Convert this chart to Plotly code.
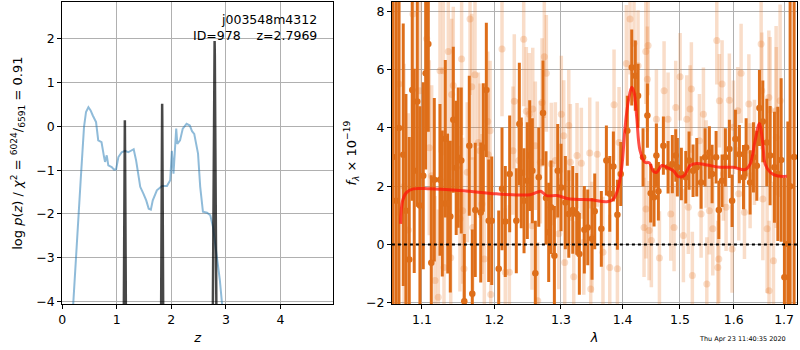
import plotly.graph_objects as go

# ---------------- left panel: log p(z) ----------------
pz_z = [0.18, 0.20, 0.264, 0.338, 0.399, 0.436, 0.48, 0.52, 0.56, 0.62, 0.66, 0.72, 0.767, 0.785,
        0.816, 0.845, 0.907, 0.95, 0.987, 1.03, 1.09, 1.15, 1.21, 1.26, 1.31, 1.355, 1.43, 1.49,
        1.54, 1.586, 1.625, 1.66, 1.735, 1.83, 1.92, 1.98, 2.01, 2.04, 2.07, 2.09, 2.11, 2.16,
        2.21, 2.28, 2.34, 2.38, 2.42, 2.49, 2.53, 2.58, 2.655, 2.715, 2.765, 2.825, 2.89, 2.93, 2.95]
pz_logp = [-4.5, -4.05, -2.83, -1.23, -0.015, 0.33, 0.44, 0.365, 0.25, 0.10, -0.32, -0.36, -0.70, -0.81,
           -0.66, -0.89, -0.93, -0.99, -0.98, -0.70, -0.59, -0.56, -0.59, -0.55, -0.52, -0.78, -1.38, -1.54,
           -1.69, -1.88, -1.90, -1.69, -1.46, -1.36, -1.36, -1.23, -0.56, -1.08, -0.40, -0.05, -0.40, -0.32,
           -0.05, 0.06, 0.02, -0.11, -0.17, -0.62, -1.38, -1.95, -1.97, -2.03, -2.30, -2.83, -3.51, -4.05, -4.5]

spike_z = [1.128, 1.140, 1.146, 1.148, 1.150, 1.156, 1.168, None,
           1.812, 1.824, 1.830, 1.832, 1.834, 1.840, 1.852, None,
           2.760, 2.780, 2.790, 2.794, 2.798, 2.808, 2.828]
spike_logp = [-4.5, -1.5, -0.2, 0.14, -0.2, -1.5, -4.5, None,
              -4.5, -1.2, 0.2, 0.52, 0.2, -1.2, -4.5, None,
              -4.5, -0.5, 1.6, 1.95, 1.6, -0.5, -4.5]

z_ticks = [0, 1, 2, 3, 4]
logp_ticks = [-4, -3, -2, -1, 0, 1, 2]

# ---------------- right panel: spectrum ----------------
# darker beam
wave_a = [1.0623, 1.0663, 1.0700, 1.0755, 1.0790, 1.0833, 1.0872, 1.0898, 1.0938, 1.0973, 1.1017,
          1.1049, 1.1084, 1.1124, 1.1164, 1.1241, 1.1272, 1.1313, 1.1346, 1.1381, 1.1422, 1.1462,
          1.1490, 1.1532, 1.1574, 1.1644, 1.1686, 1.1728, 1.1805, 1.1842, 1.1885, 1.1919, 1.1962,
          1.2063, 1.2111, 1.2159, 1.2223, 1.2321, 1.2366, 1.2395, 1.2436, 1.2485, 1.2521, 1.2561,
          1.2606, 1.2658, 1.2723, 1.2769, 1.2810, 1.2846, 1.2898, 1.2950, 1.3002, 1.3069, 1.3123,
          1.3186, 1.3249, 1.3291, 1.3371, 1.3426, 1.3495, 1.3539, 1.3647, 1.3730, 1.3786, 1.3846,
          1.3913, 1.3969, 1.4080, 1.4155, 1.4216, 1.4263, 1.4349, 1.4424, 1.4482, 1.4540, 1.4581,
          1.4616, 1.4704, 1.4787, 1.4863, 1.4924, 1.4953, 1.5025, 1.5105, 1.5165, 1.5238, 1.5306,
          1.5386, 1.5460, 1.5540, 1.5591, 1.5666, 1.5717, 1.5779, 1.5842, 1.5918, 1.5970, 1.6034,
          1.6111, 1.6190, 1.6242, 1.6320, 1.6385, 1.6452, 1.6504, 1.6571, 1.6651, 1.6717, 1.6804,
          1.6873, 1.6940, 1.7007, 1.7077, 1.7124, 1.7206]
flux_a = [3.0, 1.5, 4.0, 3.08, 1.16, -0.51, 5.3, 2.53, 4.9, 1.34, 2.36,
          5.87, 6.87, -0.62, 2.22, 2.22, 1.41, 3.63, 1.41, 0.96, 4.28, 2.63,
          2.98, 2.88, -1.94, 3.39, -1.68, 1.19, 1.10, 3.33, 5.3, 0.82, 0.82,
          -0.83, 1.91, 0.79, 2.42, 0.82, 4.13, 2.46, 1.5, 2.19, 3.05, 2.53,
          -0.98, 2.31, 4.51, 1.6, 0.42, 1.28, -0.38, 2.53, 1.96, 1.44, 1.05,
          1.19, 1.05, -0.32, 0.51, 0.59, 0.2, 1.14, 0.54, 2.88, 1.74, 2.68,
          1.02, 2.42, 3.9, 6.07, 5.79, 5.1, 2.99, 4.42, 1.76, 1.62, 3.05,
          1.83, 3.39, 2.65, 2.76, 3.05, 2.65, 2.42, 2.31, 2.88, 2.53, 2.65,
          2.13, 2.99, 3.16, 2.42, 2.99, 1.19, 2.19, 2.99, 3.28, 1.5, 3.62,
          3.1, 2.31, 3.33, 2.13, 2.99, 2.7, 4.68, 4.22, 3.5, 3.05, 2.65,
          2.42, 2.9, -1.12, 0.02, 2.0, 3.0]
err_a = [8.0, 7.5, 6.5, 4.5, 4.0, 4.2, 3.8, 3.5, 3.6, 3.4, 3.2,
         3.3, 3.0, 3.0, 2.8, 2.6, 2.5, 2.7, 2.4, 2.6, 2.5, 2.3,
         2.4, 2.5, 2.3, 2.4, 2.2, 2.3, 2.4, 2.2, 2.3, 2.1, 2.2,
         2.0, 2.1, 1.9, 2.0, 1.8, 2.1, 1.9, 1.8, 2.0, 1.9, 1.8,
         1.8, 1.7, 1.8, 1.6, 1.7, 1.6, 1.7, 1.6, 1.5, 1.6, 1.5,
         1.5, 1.4, 1.4, 1.5, 1.3, 1.4, 1.3, 1.3, 1.2, 1.3, 1.2,
         1.2, 1.1, 1.2, 1.3, 1.2, 1.1, 1.0, 1.1, 1.0, 1.0, 1.1,
         1.0, 1.0, 0.9, 1.0, 0.9, 1.0, 0.9, 0.9, 1.0, 0.9, 1.0,
         0.9, 1.0, 0.9, 1.0, 0.9, 1.0, 0.9, 1.0, 1.0, 0.9, 1.0,
         1.0, 1.1, 1.0, 1.1, 1.2, 1.2, 1.3, 1.4, 1.5, 1.7, 1.9,
         2.3, 2.8, 3.4, 4.2, 8.0, 9.0]

# lighter beam
wave_b = [1.0700, 1.0765, 1.0820, 1.0881, 1.0973, 1.1063, 1.1097, 1.1129, 1.1174, 1.1218, 1.1241,
          1.1286, 1.1295, 1.1354, 1.1387, 1.1400, 1.1422, 1.1514, 1.1537, 1.1552, 1.1570, 1.1616,
          1.1654, 1.1678, 1.1692, 1.1724, 1.1771, 1.1795, 1.1823, 1.1856, 1.1905, 1.1913, 1.1938,
          1.1948, 1.2111, 1.2159, 1.2218, 1.2272, 1.2291, 1.2357, 1.2431, 1.2470, 1.2515, 1.2556,
          1.2567, 1.2606, 1.2643, 1.2682, 1.2708, 1.2743, 1.2774, 1.2851, 1.2913, 1.2966, 1.3006,
          1.3044, 1.3059, 1.3123, 1.3148, 1.3202, 1.3254, 1.3323, 1.3362, 1.3458, 1.3474, 1.3495,
          1.3581, 1.3674, 1.3786, 1.3857, 1.3913, 1.3941, 1.4064, 1.4126, 1.4194, 1.4263, 1.4366,
          1.4396, 1.4400, 1.4424, 1.4436, 1.4453, 1.4493, 1.4581, 1.4634, 1.4716, 1.4787, 1.4835,
          1.4894, 1.4924, 1.5002, 1.5062, 1.5123, 1.5152, 1.5183, 1.5207, 1.5225, 1.5355, 1.5386,
          1.5429, 1.5479, 1.5492, 1.5540, 1.5604, 1.5679, 1.5698, 1.5717, 1.5728, 1.5779, 1.5804,
          1.5855, 1.5918, 1.5970, 1.5995, 1.6080, 1.6099, 1.6144, 1.6209, 1.6295, 1.6320, 1.6405,
          1.6537, 1.6551, 1.6571, 1.6657, 1.6691, 1.6695, 1.6717, 1.6784, 1.6838, 1.6842, 1.6919]
flux_b = [5.5, 2.0, 0.5, 7.9, 5.27, 7.05, 3.32, 2.36, -1.23, -1.8, 5.96,
          5.96, -0.78, 6.62, -0.45, 5.14, 5.45, 0.89, 6.36, 1.16, -0.83, 2.48,
          7.73, 5.41, 0.59, 5.82, 3.5, 3.22, 1.39, -0.49, 4.22, 3.08, 3.9,
          -1.71, 6.7, -0.95, -0.95, 3.22, 4.91, 2.88, 7.04, 4.57, 4.47, 0.65,
          4.65, 3.39, -1.92, 2.82, 4.87, 6.44, 5.87, 2.76, 2.88, 0.37, 4.47,
          3.73, -0.61, 4.08, 2.82, -1.1, 3.05, 2.79, 0.08, 3.14, -1.52, 0.25,
          3.1, -0.26, -0.78, 4.79, -0.83, 3.5, 6.21, 7.73, 6.9, 6.13, 0.59,
          6.62, 1.22, 5.67, 6.82, 0.48, 0.14, 4.3, -0.46, 5.27, 4.3, 1.05,
          0.59, 4.7, 5.75, 0.31, 4.3, 1.28, 4.65, 5.33, -1.06, 3.56, 1.05,
          4.47, 2.76, -1.35, 1.16, 0.54, 6.99, -0.78, -0.49, 4.93, 5.5, 2.42,
          1.28, 4.95, -0.15, 4.02, 4.59, 1.74, 5.87, 1.11, 4.82, 2.36, 3.16,
          6.87, 5.27, 1.56, 0.54, 5.04, -1.58, 4.61, -0.55, 4.59, 3.67, 4.93]
err_b = [4.5, 4.2, 4.0, 3.6, 3.4, 3.2, 3.0, 3.1, 2.9, 3.0, 2.8,
         2.9, 2.7, 2.8, 2.7, 2.6, 2.7, 2.5, 2.6, 2.5, 2.6, 2.4,
         2.6, 2.5, 2.4, 2.5, 2.4, 2.3, 2.4, 2.3, 2.4, 2.3, 2.4,
         2.3, 2.3, 2.2, 2.3, 2.2, 2.3, 2.1, 2.3, 2.2, 2.1, 2.2,
         2.1, 2.2, 2.0, 2.1, 2.2, 2.1, 2.0, 2.1, 2.0, 1.9, 2.0,
         1.9, 2.0, 1.9, 2.0, 1.9, 1.8, 1.9, 1.8, 1.9, 1.8, 1.9,
         1.8, 1.9, 1.8, 1.9, 1.8, 1.9, 2.0, 1.9, 2.0, 1.9, 1.7,
         1.8, 1.7, 1.8, 1.7, 1.7, 1.6, 1.7, 1.6, 1.7, 1.6, 1.6,
         1.5, 1.6, 1.5, 1.6, 1.5, 1.6, 1.5, 1.6, 1.5, 1.6, 1.5,
         1.6, 1.5, 1.6, 1.5, 1.6, 1.5, 1.6, 1.5, 1.6, 1.5, 1.6,
         1.5, 1.6, 1.5, 1.6, 1.5, 1.6, 1.7, 1.6, 1.7, 1.8, 1.8,
         1.9, 2.0, 2.1, 2.2, 2.3, 2.4, 2.5, 2.7, 2.9, 3.1, 3.3]

# best-fit model
model_wave = [1.0721, 1.0747, 1.0799, 1.0886, 1.1106, 1.1560, 1.2030, 1.2526, 1.2627, 1.2688, 1.2780,
              1.2935, 1.3143, 1.3463, 1.3737, 1.3846, 1.3913, 1.3986, 1.4042, 1.4098, 1.4155, 1.4194,
              1.4240, 1.4297, 1.4384, 1.4459, 1.4528, 1.4587, 1.4676, 1.4765, 1.4882, 1.4971, 1.5074,
              1.5183, 1.5306, 1.5492, 1.5741, 1.5995, 1.6222, 1.6320, 1.6418, 1.6504, 1.6571, 1.6617,
              1.6717, 1.6852, 1.7056]
model_flux = [0.71, 1.51, 1.79, 1.91, 1.91, 1.85, 1.74, 1.71, 1.79, 1.83, 1.68,
              1.68, 1.56, 1.54, 1.47, 1.56, 1.85, 2.65, 4.02, 4.93, 5.39, 5.22,
              4.36, 3.22, 2.82, 2.80, 2.51, 2.48, 2.71, 2.65, 2.53, 2.33, 2.36,
              2.71, 2.78, 2.73, 2.65, 2.65, 2.57, 2.76, 3.56, 4.15, 3.45, 2.76,
              2.48, 2.36, 2.34]

lam_ticks = [1.1, 1.2, 1.3, 1.4, 1.5, 1.6, 1.7]
lam_ticktext = ["1.1", "1.2", "1.3", "1.4", "1.5", "1.6", "1.7"]
flux_ticks = [-2, 0, 2, 4, 6, 8]

FONT = "DejaVu Sans"
ORANGE = "rgb(222,110,25)"
ORANGE_L = "rgba(232,120,40,0.25)"

fig = go.Figure()

fig.add_trace(go.Scatter(x=pz_z, y=pz_logp, mode="lines", xaxis="x", yaxis="y",
                         line=dict(color="rgba(31,119,180,0.5)", width=2), showlegend=False,
                         hoverinfo="skip"))
fig.add_trace(go.Scatter(x=spike_z, y=spike_logp, mode="lines", xaxis="x", yaxis="y",
                         line=dict(color="rgba(0,0,0,0.72)", width=2.5), showlegend=False,
                         hoverinfo="skip"))

fig.add_trace(go.Scatter(x=wave_b, y=flux_b, mode="markers", xaxis="x2", yaxis="y2",
                         marker=dict(color=ORANGE_L, size=7),
                         error_y=dict(type="data", array=err_b, width=0, thickness=3.5, color=ORANGE_L),
                         showlegend=False, hoverinfo="skip"))
fig.add_trace(go.Scatter(x=wave_a, y=flux_a, mode="markers", xaxis="x2", yaxis="y2",
                         marker=dict(color=ORANGE, size=6.5),
                         error_y=dict(type="data", array=err_a, width=0, thickness=3, color=ORANGE),
                         showlegend=False, hoverinfo="skip"))
fig.add_trace(go.Scatter(x=model_wave, y=model_flux, mode="lines", xaxis="x2", yaxis="y2",
                         line=dict(color="rgba(255,20,10,0.75)", width=3, shape="spline"),
                         showlegend=False, hoverinfo="skip"))

fig.add_shape(type="line", xref="x2 domain", x0=0, x1=1, yref="y2", y0=0, y1=0,
              line=dict(color="black", width=2, dash="dot"))

axis_common = dict(showline=True, mirror=True, linecolor="black", linewidth=1,
                   ticks="outside", ticklen=4, tickcolor="black", showgrid=True,
                   gridcolor="#b0b0b0", gridwidth=1, zeroline=False, automargin=False,
                   tickfont=dict(family=FONT, size=12.5, color="black"))

fig.update_layout(
    width=800, height=350,
    margin=dict(l=0, r=0, t=0, b=0, autoexpand=False),
    paper_bgcolor="white", plot_bgcolor="white",
    font=dict(family=FONT, color="black"),
    xaxis=dict(domain=[0.0778, 0.4166], anchor="y", range=[0, 4.97], tickvals=z_ticks,
               title=dict(text="<i>z</i>", font=dict(size=13), standoff=6), **axis_common),
    yaxis=dict(domain=[0.131, 0.994], anchor="x", range=[-4.06, 2.84], tickvals=logp_ticks,
               title=dict(text="log <i>p</i>(<i>z</i>) / <i>χ</i><sup>2</sup> = <sup>6024</sup>/<sub>6591</sub> = 0.91",
                          font=dict(size=13), standoff=10), **axis_common),
    xaxis2=dict(domain=[0.4899, 0.9965], anchor="y2", type="log", range=[0.0257, 0.2373],
                tickvals=lam_ticks, ticktext=lam_ticktext,
                title=dict(text="<i>λ</i>", font=dict(size=13), standoff=6), **axis_common),
    yaxis2=dict(domain=[0.131, 0.994], anchor="x2", range=[-2.04, 8.31], tickvals=flux_ticks,
                title=dict(text="<i>f</i><sub><i>λ</i></sub> × 10<sup>−19</sup>",
                           font=dict(size=13), standoff=6), **axis_common),
)

fig.add_annotation(text="j003548m4312", xref="paper", yref="paper", x=0.3985, y=0.943,
                   xanchor="right", yanchor="middle", showarrow=False,
                   font=dict(family=FONT, size=12.5, color="black"))
fig.add_annotation(text="ID=978\u00a0\u00a0\u00a0\u00a0z=2.7969", xref="paper", yref="paper",
                   x=0.3985, y=0.899, xanchor="right", yanchor="middle", showarrow=False,
                   font=dict(family=FONT, size=12.5, color="black"))
fig.add_annotation(text="Thu Apr 23 11:40:35 2020", xref="paper", yref="paper", x=0.928, y=0.031,
                   xanchor="center", yanchor="middle", showarrow=False,
                   font=dict(family=FONT, size=6.5, color="black"))

fig.write_html("out.html", config={"displayModeBar": False},
               post_script="document.body.style.margin='0';document.body.style.overflow='hidden';")
